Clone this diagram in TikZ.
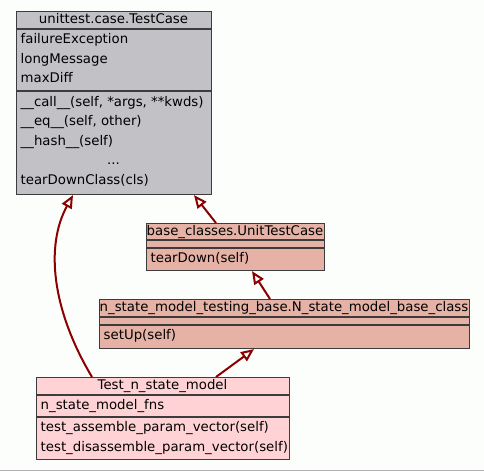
\documentclass[tikz,border=0pt]{standalone}
\usepackage{fontspec}
\setmainfont{DejaVu Sans}
\usepackage{tikz}
\usetikzlibrary{arrows.meta,positioning,calc}

\definecolor{pagebg}{RGB}{252,254,252}
\definecolor{boxline}{RGB}{60,60,60}
\definecolor{basegray}{RGB}{194,193,198}
\definecolor{basesalmon}{RGB}{229,178,165}
\definecolor{testpink}{RGB}{255,211,214}
\definecolor{edgered}{RGB}{139,0,0}

\begin{document}
\begin{tikzpicture}[x=1pt, y=-1pt,
  classbox/.style={draw=boxline, line width=1.1pt, anchor=north west, inner sep=0pt},
  sep/.style={draw=boxline, line width=1.1pt},
  title/.style={anchor=base, inner sep=0pt, font=\fontsize{13.3}{16}\selectfont},
  member/.style={anchor=base west, inner sep=0pt, font=\fontsize{13.3}{16}\selectfont},
  inherit/.style={draw=edgered, line width=2pt, -{Triangle[open, length=13pt, width=11pt]}}
]
\useasboundingbox (0,0) rectangle (484,471);
\fill[pagebg] (0,0) rectangle (484,471);
\draw[black!30, line width=1pt] (0,470) -- (484,470);

% unittest.case.TestCase
\node[classbox, fill=basegray, minimum width=195pt, minimum height=183pt] (testcase) at (16,11) {};
\draw[sep] (testcase.west |- 0,29) -- (testcase.east |- 0,29);
\draw[sep] (testcase.west |- 0,91) -- (testcase.east |- 0,91);
\node[title] (testcase-name) at (113.5,23.3) {unittest.case.TestCase};
\node[member] (testcase-a1) at (20.5,43.3) {failureException};
\node[member] (testcase-a2) at (20.5,63) {longMessage};
\node[member] (testcase-a3) at (20.5,82.6) {maxDiff};
\node[member] (testcase-m1) at (20.5,106) {\_\_call\_\_(self, *args, **kwds)};
\node[member] (testcase-m2) at (20.5,125.6) {\_\_eq\_\_(self, other)};
\node[member] (testcase-m3) at (20.5,145.2) {\_\_hash\_\_(self)};
\node[title] (testcase-more) at (113.5,164.8) {...};
\node[member] (testcase-m4) at (20.5,184.4) {tearDownClass(cls)};

% base_classes.UnitTestCase
\node[classbox, fill=basesalmon, minimum width=178pt, minimum height=47pt] (unittestcase) at (146,223) {};
\draw[sep] (unittestcase.west |- 0,240) -- (unittestcase.east |- 0,240);
\draw[sep] (unittestcase.west |- 0,248) -- (unittestcase.east |- 0,248);
\node[title] (unittestcase-name) at (235,235.3) {base\_classes.UnitTestCase};
\node[member] (unittestcase-m1) at (150.5,262.5) {tearDown(self)};

% n_state_model_testing_base.N_state_model_base_class
\node[classbox, fill=basesalmon, minimum width=370pt, minimum height=49pt] (basemodel) at (99,299) {};
\draw[sep] (basemodel.west |- 0,317) -- (basemodel.east |- 0,317);
\draw[sep] (basemodel.west |- 0,325) -- (basemodel.east |- 0,325);
\node[title] (basemodel-name) at (284,311.5) {n\_state\_model\_testing\_base.N\_state\_model\_base\_class};
\node[member] (basemodel-m1) at (103.5,339.5) {setUp(self)};

% Test_n_state_model
\node[classbox, fill=testpink, minimum width=253pt, minimum height=82pt] (testmodel) at (36,377) {};
\draw[sep] (testmodel.west |- 0,395) -- (testmodel.east |- 0,395);
\draw[sep] (testmodel.west |- 0,417) -- (testmodel.east |- 0,417);
\node[title] (testmodel-name) at (162.5,389.3) {Test\_n\_state\_model};
\node[member] (testmodel-a1) at (40.5,409.5) {n\_state\_model\_fns};
\node[member] (testmodel-m1) at (40.5,431.5) {test\_assemble\_param\_vector(self)};
\node[member] (testmodel-m2) at (40.5,451) {test\_disassemble\_param\_vector(self)};

\draw[inherit] ([xshift=70pt]unittestcase.north west) -- ([xshift=178pt]testcase.south west);
\draw[inherit] ([xshift=171pt]basemodel.north west) -- ([xshift=106pt]unittestcase.south west);
\draw[inherit] ([xshift=180pt]testmodel.north west) -- ([xshift=155pt]basemodel.south west);
\draw[inherit] ([xshift=56pt]testmodel.north west) .. controls +(-40,-67) and +(-28,51) .. ([xshift=57pt]testcase.south west);
\end{tikzpicture}
\end{document}
